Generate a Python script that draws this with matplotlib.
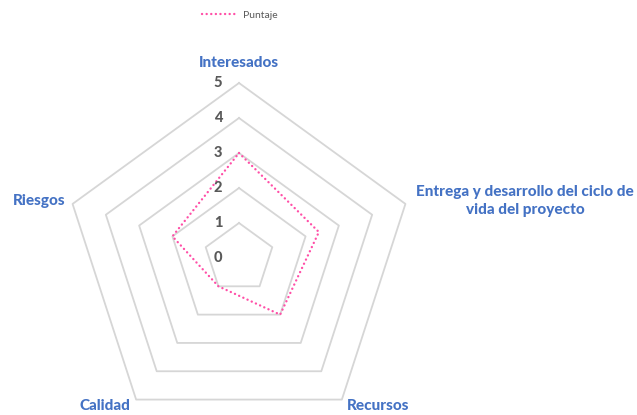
import numpy as np
import matplotlib.pyplot as plt

categories = ['Interesados', 'Entrega y desarrollo del ciclo de\nvida del proyecto',
              'Recursos', 'Calidad', 'Riesgos']
puntaje = [3, 2.4, 2, 1, 2]
levels = [0, 1, 2, 3, 4, 5]

W, H = 637, 415
cx, cy, unit = 239, 258, 35.0   # centre and px per unit in the picture


def px(x, y):
    # pixel position in the picture -> data coords
    return (x - cx) / unit, (cy - y) / unit


fig = plt.figure(figsize=(W / 100, H / 100), dpi=100)
ax = fig.add_axes([0, 0, 1, 1])
ax.set_xlim(-cx / unit, (W - cx) / unit)
ax.set_ylim(-(H - cy) / unit, cy / unit)
ax.set_aspect('equal')
ax.axis('off')

n = len(categories)
ang = np.pi / 2 - np.arange(n) * 2 * np.pi / n
ang_c = np.append(ang, ang[0])

# pentagon grid
for lv in levels[1:]:
    ax.plot(lv * np.cos(ang_c), lv * np.sin(ang_c), color='#d6d6d6', lw=1.3, zorder=1)

# data line
vals = np.append(puntaje, puntaje[0])
line, = ax.plot(vals * np.cos(ang_c), vals * np.sin(ang_c), color='#ff4fa7', lw=1.7,
                linestyle=(0, (0.05, 1.9)), dash_capstyle='round', zorder=3, label='Puntaje')

# axis values
for lv in levels:
    x, y = px(218, 0)
    ax.text(x, lv, str(lv), ha='center', va='center', fontsize=10.5, fontweight='black',
            color='#595959', family='Lato', zorder=4)

# category labels
lab_kw = dict(fontsize=11, fontweight='black', color='#4472c4', family='Lato')
ax.text(*px(239, 63), categories[0], ha='center', va='center', **lab_kw)
ax.text(*px(525, 201), categories[1], ha='center', va='center', multialignment='center',
        linespacing=1.4, **lab_kw)
ax.text(*px(378, 406), categories[2], ha='center', va='center', **lab_kw)
ax.text(*px(105, 406), categories[3], ha='center', va='center', **lab_kw)
ax.text(*px(66, 201), categories[4], ha='right', va='center', **lab_kw)

leg = fig.legend(handles=[line], loc='center', bbox_to_anchor=(240 / W, 1 - 15 / H),
                 frameon=False, handlelength=3.4, handletextpad=0.5,
                 prop={'family': 'Lato', 'size': 7.5})
for t in leg.get_texts():
    t.set_color('#595959')

fig.savefig('out.png', dpi=100)
